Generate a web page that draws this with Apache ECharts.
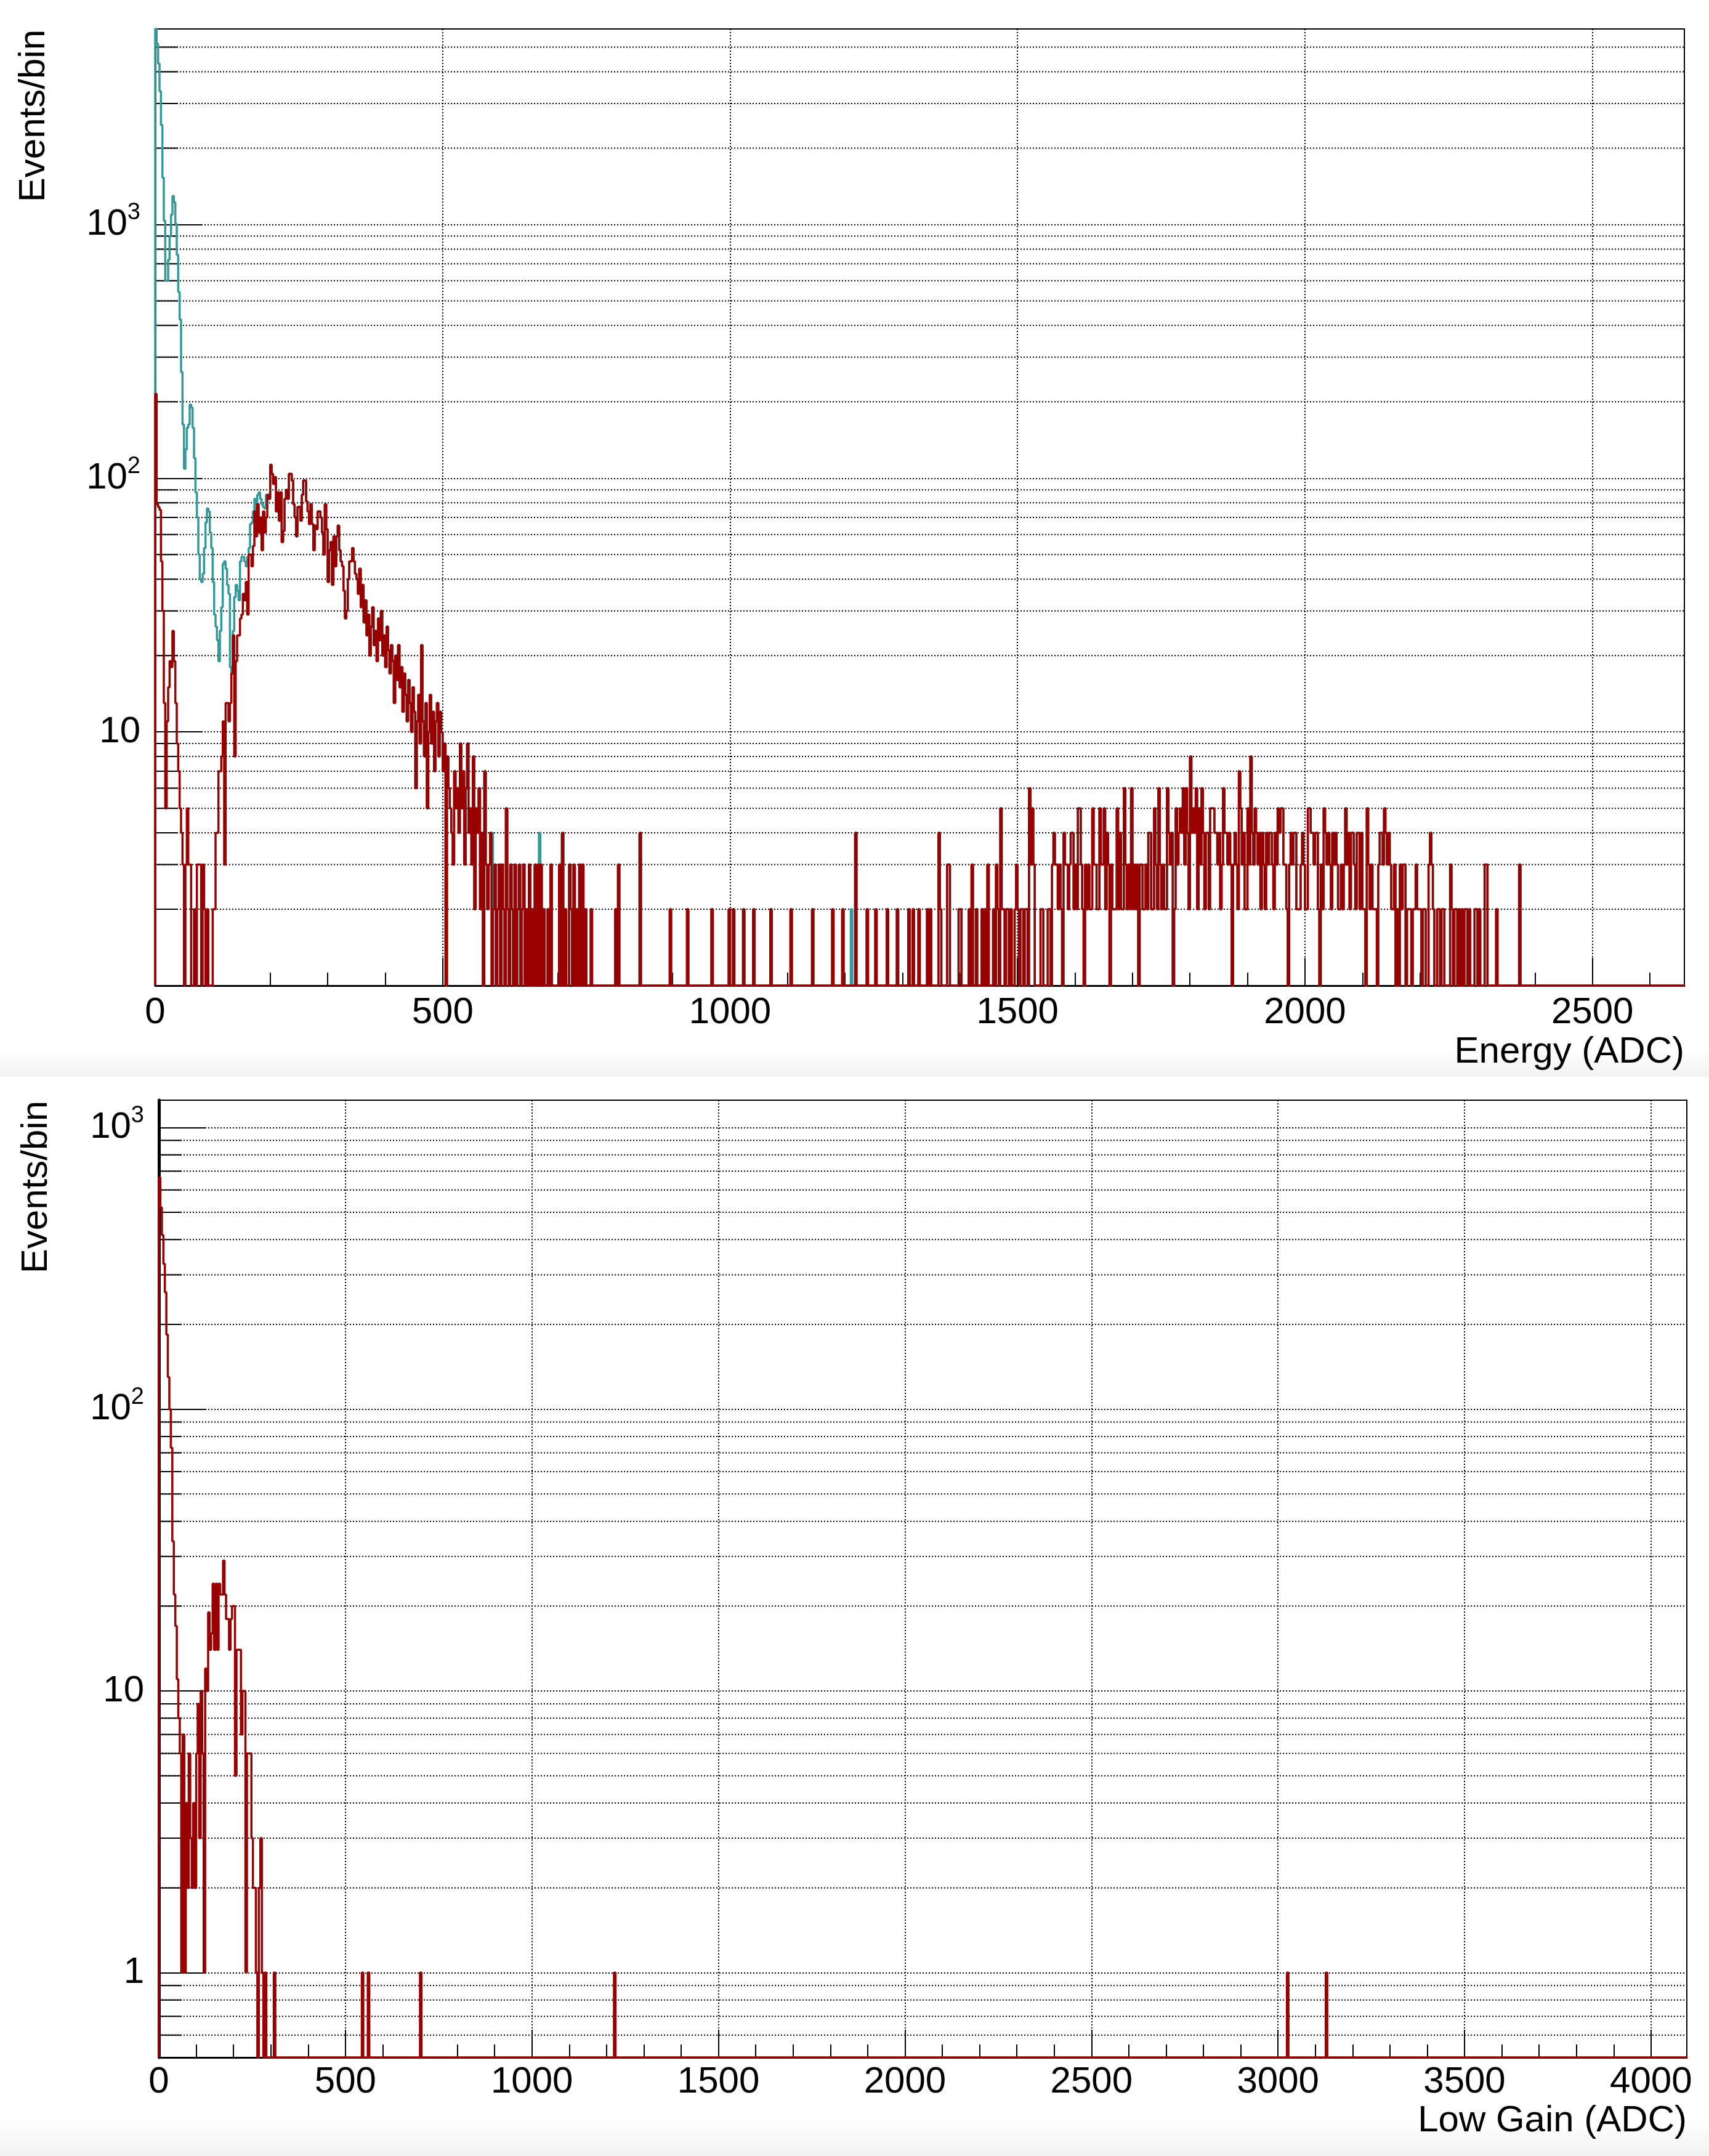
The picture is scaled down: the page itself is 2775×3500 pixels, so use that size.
<!DOCTYPE html>
<html>
<head>
<meta charset="utf-8">
<script src="https://cdn.jsdelivr.net/npm/echarts@6/dist/echarts.min.js"></script>
<style>
  html, body { margin: 0; padding: 0; background: #fff; }
  #main { width: 2775px; height: 3500px; }
</style>
</head>
<body>
<div id="main"></div>
<script>
const chart = echarts.init(document.getElementById("main"));

// ********
// * Data *
// ********

const FONT = "Liberation Sans";
const RED = "#990000";
const TEAL = "#339999";

// Energy histogram: 2.5 ADC per bin, 0..2660
const energyBinWidth = 2.5;
const energyMax = 2660;
const energyYMin = 1;
const energyYMax = 5900;

// Selected events (red), counts per bin starting at 0 ADC
const energyRedLow = [
  215, 79, 77, 75, 47, 30, 13, 5, 11, 15, 19, 18, 25, 19, 13, 9, 7, 5, 4, 3,
  0, 3, 5, 3, 3, 0, 0, 2, 0, 3, 3, 3, 0, 3, 2, 0, 2, 0, 0, 0,
  2, 2, 4, 4, 7, 7, 8, 11, 3, 13, 13, 11, 13, 17, 24, 8, 19, 24, 24, 28,
  29, 35, 33, 39, 29, 50, 50, 45, 54, 74, 59, 79, 61, 70, 52, 74, 61, 70, 86, 83,
  113, 104, 95, 101, 74, 88, 68, 88, 56, 62, 83, 90, 83, 104, 104, 98, 79, 70, 59, 77,
  77, 68, 86, 98, 98, 81, 74, 66, 79, 66, 52, 65, 63, 74, 74, 70, 61, 50, 79, 63,
  39, 52, 56, 38, 59, 45, 59, 65, 52, 47, 45, 36, 28, 30, 40, 47, 47, 53, 47, 42,
  40, 35, 44, 31, 38, 27, 33, 24, 29, 20, 26, 31, 22, 25, 19, 28, 23, 30, 20, 24,
  18, 26, 21, 17, 22, 19, 13, 20, 16, 22, 15, 18, 12, 17, 14, 11, 16, 13, 10, 15,
  12, 6, 11, 14, 9, 22, 11, 8, 13, 5, 10, 14, 9, 12, 7, 11, 13, 8, 12, 10,
  7, 9, 0, 8, 6, 5, 4, 3, 7, 5, 6, 4, 9, 5, 7, 3, 6, 9, 4, 5,
  3, 8, 2, 5, 4, 6, 2, 4, 0, 7, 3, 2, 3, 4, 0, 2, 3, 0, 2, 3,
  0, 3, 2, 0, 5, 2, 0, 3, 2, 0, 3, 0, 2, 3, 0, 2
];

// Sparse counts between 640 and 1340 ADC: [adc, count]
const energyRedMid = [
  [642, 3], [645, 2], [650, 3], [655, 2], [660, 3], [665, 3], [670, 3], [675, 2],
  [682.5, 2], [687.5, 3], [702.5, 3], [707.5, 4], [712.5, 2], [720, 3], [722.5, 2],
  [727.5, 3], [732.5, 2], [737.5, 3], [742.5, 3], [747.5, 2], [757.5, 2], [800, 2],
  [805, 3], [842.5, 4], [895, 2], [925, 2], [967.5, 2], [997.5, 2], [1005, 2],
  [1022.5, 2], [1040, 2], [1070, 2], [1105, 2], [1142.5, 2], [1177.5, 2], [1195, 2],
  [1217.5, 4], [1237.5, 2], [1252.5, 2], [1272.5, 2], [1290, 2], [1310, 2],
  [1317.5, 2], [1327.5, 2]
];

// Counts per bin starting at 1340 ADC
const energyRedHigh = [
  0, 2, 0, 2, 0, 0, 0, 0, 0, 4, 2, 0, 0, 0, 0, 3, 3, 0, 0, 0,
  0, 0, 0, 2, 2, 0, 0, 0, 0, 0, 2, 0, 3, 0, 0, 2, 0, 0, 0, 2,
  0, 2, 0, 3, 0, 0, 0, 2, 0, 3, 2, 0, 5, 2, 2, 0, 2, 2, 0, 2,
  0, 0, 2, 3, 2, 0, 2, 2, 0, 2, 2, 0, 6, 3, 5, 3, 0, 0, 0, 0,
  2, 2, 0, 0, 0, 2, 2, 0, 3, 4, 3, 3, 2, 3, 2, 0, 4, 3, 3, 2,
  3, 4, 4, 2, 3, 2, 5, 5, 3, 2, 0, 3, 2, 3, 2, 2, 5, 3, 3, 2,
  2, 5, 3, 3, 5, 2, 4, 3, 0, 3, 2, 2, 2, 5, 2, 4, 2, 2, 6, 3,
  2, 3, 2, 6, 2, 3, 2, 3, 0, 3, 3, 2, 2, 3, 2, 4, 4, 2, 2, 5,
  3, 2, 6, 3, 2, 3, 2, 2, 6, 4, 3, 4, 0, 2, 5, 3, 4, 5, 4, 6,
  3, 6, 4, 2, 8, 4, 5, 4, 6, 2, 5, 3, 6, 4, 2, 4, 4, 2, 5, 5,
  5, 4, 4, 3, 4, 2, 3, 6, 4, 4, 3, 4, 3, 0, 3, 4, 3, 2, 7, 5,
  3, 4, 2, 2, 5, 3, 8, 4, 3, 5, 4, 3, 4, 2, 4, 3, 2, 4, 3, 4,
  4, 3, 2, 4, 3, 5, 4, 5, 5, 3, 3, 2, 0, 3, 4, 3, 4, 4, 2, 2,
  2, 3, 4, 3, 2, 2, 5, 5, 4, 4, 3, 4, 4, 2, 0, 3, 2, 5, 4, 3,
  4, 3, 2, 4, 3, 4, 3, 2, 2, 3, 2, 3, 5, 3, 4, 2, 4, 4, 3, 2,
  4, 4, 2, 4, 2, 2, 0, 5, 3, 2, 3, 2, 2, 2, 0, 3, 4, 4, 3, 5,
  4, 3, 4, 3, 2, 2, 3, 0, 2, 0, 3, 2, 3, 3, 0, 2, 2, 2, 0, 2,
  2, 3, 2, 2, 2, 0, 2, 2, 0, 0, 3, 4, 3, 2, 0, 0, 2, 2, 0, 2,
  2, 0, 0, 0, 0, 3, 2, 0, 2, 2, 0, 2, 0, 2, 0, 2, 2, 0, 2, 0,
  0, 0, 2, 2, 0, 2, 0, 0, 0, 3, 3, 0, 0, 0, 0, 0, 0, 2, 0, 0,
  0, 0, 0, 0, 0, 0, 0, 0, 0, 0, 0, 0, 0, 3
];

// All events (teal) below ~195 ADC; above that it matches the red one
const energyTealLow = [
  5900, 5160, 4310, 3355, 2465, 1530, 1035, 600, 600, 727, 899, 1094, 1294, 1224, 1006, 759, 543, 422, 262, 163,
  109, 130, 158, 163, 195, 190, 158, 120, 88, 70, 50, 40, 39, 42, 53, 67, 76, 74, 61, 53,
  39, 29, 26, 23, 19, 25, 31, 46, 47, 44, 38, 35, 18, 17, 25, 34, 38, 36, 33, 47,
  49, 49, 47, 45, 49, 53, 66, 67, 74, 83, 74, 86, 88, 83, 79, 77, 76, 86
];
const energyTealExtra = [[585, 4], [610, 3], [667.5, 4], [1210, 2]];

// Low gain histogram: 4 ADC per bin, 0..4096
const lowGainBinWidth = 4;
const lowGainMax = 4096;
const lowGainYMin = 0.5;
const lowGainYMax = 1250;

const lowGainLow = [
  664, 520, 415, 328, 260, 184, 130, 100, 73, 34, 22, 17, 11, 8, 6, 1, 7, 1, 4, 2,
  6, 3, 2, 4, 2, 6, 9, 3, 10, 6, 1, 12, 10, 19, 14, 16, 24, 14, 24, 14,
  24, 22, 22, 29, 22, 18, 18, 14, 18, 20, 20, 5, 14, 14, 14, 7, 10, 10, 1, 6,
  6, 6, 3, 2, 2, 1, 0, 2, 3, 1, 0, 1, 0, 0, 0, 0, 0, 1
];
const lowGainSparse = [[544, 1], [560, 1], [700, 1], [1222, 1], [3026, 1], [3130, 1]];

// Log-axis minor tick values (2..9 of each decade)
const energyMinorY = [2, 3, 4, 5, 6, 7, 8, 9, 20, 30, 40, 50, 60, 70, 80, 90,
  200, 300, 400, 500, 600, 700, 800, 900, 2000, 3000, 4000, 5000];
const lowGainMinorY = [0.6, 0.7, 0.8, 0.9, 2, 3, 4, 5, 6, 7, 8, 9, 20, 30, 40, 50, 60, 70, 80, 90,
  200, 300, 400, 500, 600, 700, 800, 900];

// *************
// * Functions *
// *************

function placeDense(bins, startAdc, binWidth, values) {
  const start = Math.round(startAdc / binWidth);
  values.forEach((v, i) => { bins[start + i] = v; });
}

function placeSparse(bins, binWidth, pairs) {
  pairs.forEach(([adc, count]) => {
    const i = Math.floor(adc / binWidth + 1e-9);
    bins[i] = Math.max(bins[i], count);
  });
}

// Histogram outline as step points, empty bins sit on the frame bottom
function stepPoints(bins, binWidth, floor) {
  const pts = [[0, floor]];
  bins.forEach((c, i) => pts.push([i * binWidth, Math.max(c, floor)]));
  pts.push([bins.length * binWidth, floor]);
  return pts;
}

const energyRed = new Array(Math.round(energyMax / energyBinWidth)).fill(0);
placeDense(energyRed, 0, energyBinWidth, energyRedLow);
placeSparse(energyRed, energyBinWidth, energyRedMid);
placeDense(energyRed, 1340, energyBinWidth, energyRedHigh);

const energyTeal = energyRed.slice();
placeDense(energyTeal, 0, energyBinWidth, energyTealLow);
placeSparse(energyTeal, energyBinWidth, energyTealExtra);

const lowGain = new Array(Math.round(lowGainMax / lowGainBinWidth)).fill(0);
placeDense(lowGain, 0, lowGainBinWidth, lowGainLow);
placeSparse(lowGain, lowGainBinWidth, lowGainSparse);

function logLabel(showOne) {
  return (v) => {
    const e = Math.round(Math.log10(v));
    if (Math.abs(v - Math.pow(10, e)) > 1e-6 * v) return "";
    if (e === 0) return showOne ? "1" : "";
    if (e === 1) return "10";
    return "{b|10}{s|" + e + "}";
  };
}

const dotted = { color: "#000", width: 2, type: [2, 3] };

function xAxisFor(gridIndex, max, margin) {
  return {
    gridIndex: gridIndex,
    type: "value",
    min: 0,
    max: max,
    interval: 500,
    axisLine: { show: true, onZero: false, lineStyle: { color: "#000", width: 3 } },
    axisTick: { show: true, inside: true, length: 45, lineStyle: { color: "#000", width: 2 } },
    minorTick: { show: true, splitNumber: 5, length: 21, lineStyle: { color: "#000", width: 2 } },
    splitLine: { show: true, lineStyle: dotted },
    axisLabel: {
      color: "#000", fontSize: 60, fontFamily: FONT, margin: margin,
      formatter: (v) => (v % 500 === 0 ? String(v) : ""),
    },
  };
}

function yAxisFor(gridIndex, min, max, showOne, lineWidth) {
  return {
    gridIndex: gridIndex,
    type: "log",
    logBase: 10,
    min: min,
    max: max,
    axisLine: { show: true, onZero: false, lineStyle: { color: "#000", width: lineWidth } },
    axisTick: { show: true, inside: true, length: 75, lineStyle: { color: "#000", width: 2 } },
    splitLine: { show: true, lineStyle: dotted },
    axisLabel: {
      color: "#000", fontSize: 60, fontFamily: FONT, margin: 24,
      formatter: logLabel(showOne),
      rich: {
        b: { fontSize: 60, fontFamily: FONT, color: "#000", lineHeight: 76 },
        s: { fontSize: 38, fontFamily: FONT, color: "#000", lineHeight: 76, verticalAlign: "top" },
      },
    },
  };
}

// Minor log ticks + dotted grid lines, placed through the y scale
function minorTickSeries(index, values) {
  return {
    type: "custom",
    xAxisIndex: index,
    yAxisIndex: index,
    z: 1,
    silent: true,
    data: values.map((v) => [0, v]),
    renderItem: (params, api) => {
      const cs = params.coordSys;
      const y = api.coord([api.value(0), api.value(1)])[1];
      return {
        type: "group",
        children: [
          { type: "line", shape: { x1: cs.x, y1: y, x2: cs.x + cs.width, y2: y },
            style: { stroke: "#000", lineWidth: 2, lineDash: [2, 3] } },
          { type: "line", shape: { x1: cs.x, y1: y, x2: cs.x + 37, y2: y },
            style: { stroke: "#000", lineWidth: 2 } },
        ],
      };
    },
  };
}

function histSeries(index, points, color, z) {
  return {
    type: "line",
    xAxisIndex: index,
    yAxisIndex: index,
    step: "end",
    data: points,
    showSymbol: false,
    symbol: "none",
    z: z,
    clip: true,
    lineStyle: { color: color, width: 3.5 },
  };
}

function titleText(text, x, y, rotated) {
  return {
    type: "text",
    x: x,
    y: y,
    rotation: rotated ? Math.PI / 2 : 0,
    z: 10,
    style: {
      text: text, fill: "#000", fontSize: 60, fontFamily: FONT,
      align: "right", verticalAlign: "middle",
    },
  };
}

const option = {
  animation: false,
  backgroundColor: "#fff",
  grid: [
    { left: 252, top: 47, width: 2483, height: 1553, show: true, borderColor: "#000", borderWidth: 2 },
    { left: 258, top: 1786, width: 2481, height: 1554, show: true, borderColor: "#000", borderWidth: 2 },
  ],
  xAxis: [xAxisFor(0, energyMax, 14), xAxisFor(1, lowGainMax, 10)],
  yAxis: [
    yAxisFor(0, energyYMin, energyYMax, false, 3),
    yAxisFor(1, lowGainYMin, lowGainYMax, true, 5),
  ],
  series: [
    minorTickSeries(0, energyMinorY),
    minorTickSeries(1, lowGainMinorY),
    histSeries(0, stepPoints(energyTeal, energyBinWidth, energyYMin), TEAL, 3),
    histSeries(0, stepPoints(energyRed, energyBinWidth, energyYMin), RED, 4),
    histSeries(1, stepPoints(lowGain, lowGainBinWidth, lowGainYMin), RED, 4),
  ],
  graphic: [
    {
      type: "rect", shape: { x: 0, y: 1702, width: 2775, height: 46 }, z: 0,
      style: { fill: new echarts.graphic.LinearGradient(0, 0, 0, 1, [
        { offset: 0, color: "#ffffff" }, { offset: 1, color: "#f2f2f2" }]) },
    },
    {
      type: "rect", shape: { x: 0, y: 3440, width: 2775, height: 60 }, z: 0,
      style: { fill: new echarts.graphic.LinearGradient(0, 0, 0, 1, [
        { offset: 0, color: "#ffffff" }, { offset: 1, color: "#f2f2f2" }]) },
    },
    titleText("Events/bin", 55, 48, true),
    titleText("Events/bin", 59, 1787, true),
    titleText("Energy (ADC)", 2735, 1708, false),
    titleText("Low Gain (ADC)", 2739, 3443, false),
  ],
};

chart.setOption(option);
</script>
</body>
</html>
